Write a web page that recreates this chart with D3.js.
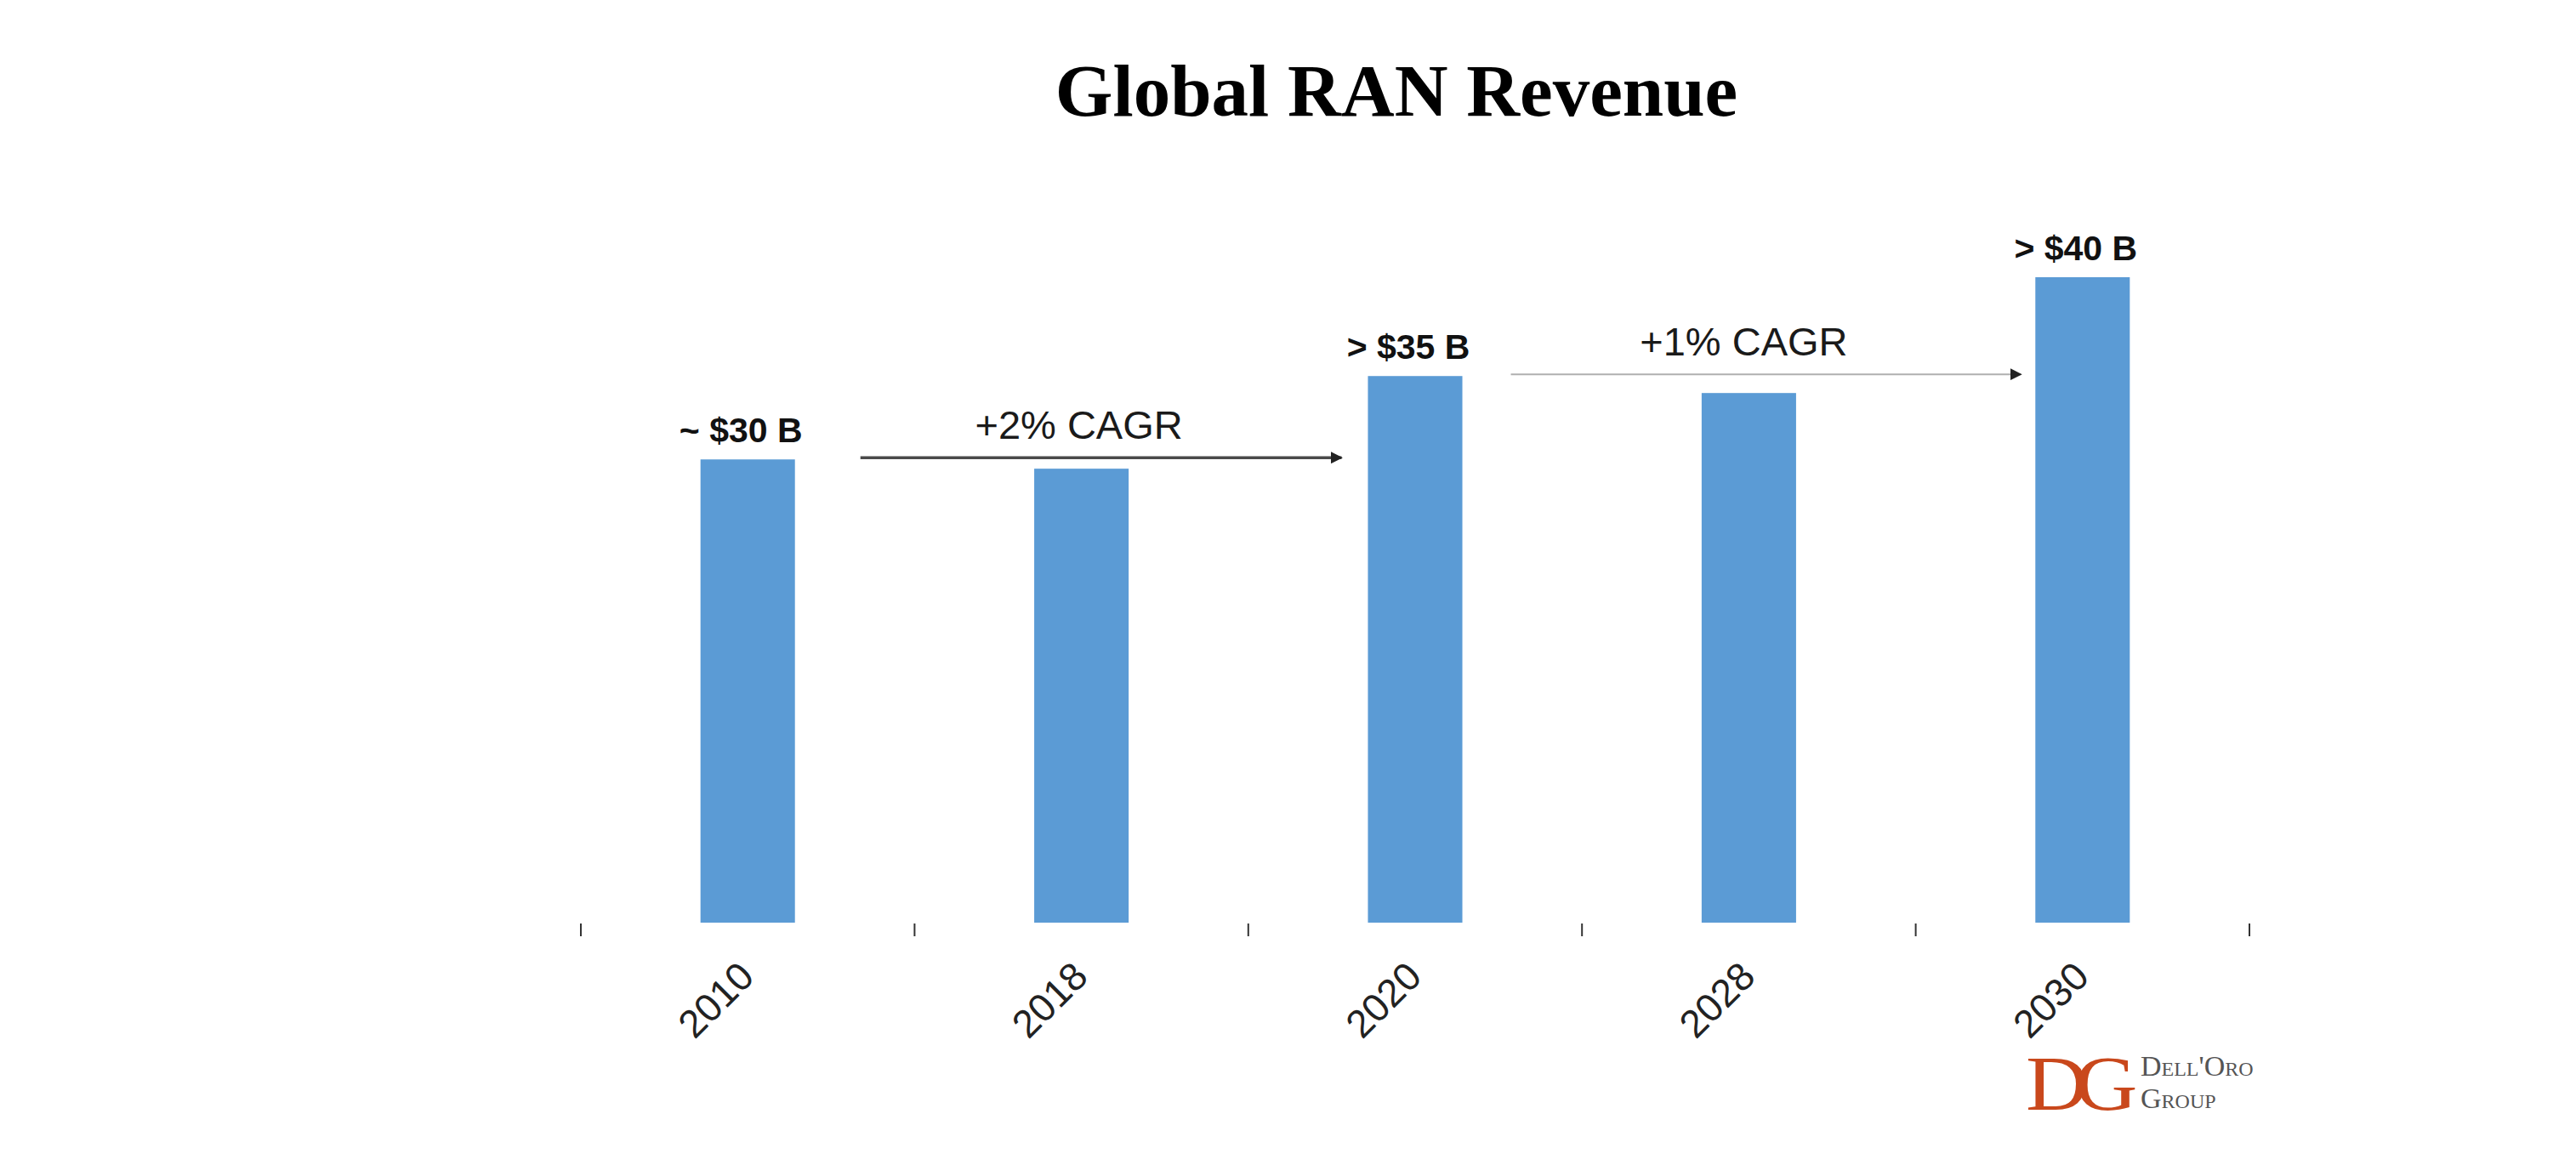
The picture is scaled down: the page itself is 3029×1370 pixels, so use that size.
<!DOCTYPE html>
<html>
<head>
<meta charset="utf-8">
<script src="https://cdn.jsdelivr.net/npm/d3@7"></script>
<style>
  html, body { margin: 0; padding: 0; background: #ffffff; }
  svg { display: block; }
</style>
</head>
<body>
<svg id="chart" width="3029" height="1370"></svg>
<script>
// ---- data ----
const title = "Global RAN Revenue";
const years = ["2010", "2018", "2020", "2028", "2030"];
const revenue = [30, 29.4, 35.4, 34.3, 41.8];            // $B
const valueLabels = ["~ $30 B", null, "> $35 B", null, "> $40 B"];
const cagrFrom = ["2010", "2020"];
const cagrTo = ["2020", "2030"];
const cagrLabels = ["+2% CAGR", "+1% CAGR"];
const logoLine1 = "Dell'Oro";
const logoLine2 = "Group";

// ---- layout ----
const W = 3029, H = 1370;
const baseY = 1085, topY = 326;
const svg = d3.select("#chart");

const x = d3.scaleBand()
  .domain(years)
  .range([683, 2645])
  .paddingInner(0.717)
  .paddingOuter(0.3585);

const y = d3.scaleLinear()
  .domain([0, d3.max(revenue)])
  .range([baseY, topY]);

const barColor = "#5b9bd5";
const data = years.map((yr, i) => ({ year: yr, value: revenue[i], label: valueLabels[i] }));

// title
svg.append("text")
  .attr("x", 1642)
  .attr("y", 136)
  .attr("text-anchor", "middle")
  .attr("font-family", "'Liberation Serif', 'Times New Roman', serif")
  .attr("font-weight", "bold")
  .attr("font-size", 87)
  .attr("fill", "#000")
  .text(title);

// bars
svg.append("g").selectAll("rect")
  .data(data)
  .join("rect")
  .attr("x", d => x(d.year))
  .attr("y", d => y(d.value))
  .attr("width", x.bandwidth())
  .attr("height", d => baseY - y(d.value))
  .attr("fill", barColor);

// value labels
svg.append("g").selectAll("text")
  .data(data.filter(d => d.label))
  .join("text")
  .attr("x", d => x(d.year) + x.bandwidth() / 2 - 8)
  .attr("y", d => y(d.value) - 20)
  .attr("text-anchor", "middle")
  .attr("font-family", "'Liberation Sans', Arial, sans-serif")
  .attr("font-weight", "bold")
  .attr("font-size", 41)
  .attr("fill", "#111")
  .text(d => d.label);

// x axis ticks at band boundaries (no axis line)
const tickPos = d3.range(years.length + 1).map(i => x.range()[0] + i * x.step());
svg.append("g").selectAll("line")
  .data(tickPos)
  .join("line")
  .attr("x1", d => d).attr("x2", d => d)
  .attr("y1", baseY + 1).attr("y2", baseY + 16)
  .attr("stroke", "#333")
  .attr("stroke-width", 2);

// x axis labels (rotated)
svg.append("g").selectAll("text")
  .data(years)
  .join("text")
  .attr("transform", d => `translate(${x(d) + x.bandwidth() / 2 + 10},${baseY + 66}) rotate(-45)`)
  .attr("text-anchor", "end")
  .attr("font-family", "'Liberation Sans', Arial, sans-serif")
  .attr("font-size", 46)
  .attr("fill", "#222")
  .text(d => d);

// CAGR arrows
const defs = svg.append("defs");
const arrowStyles = [
  { color: "#4a4a4a", width: 3.5 },
  { color: "#b0b0b0", width: 2 }
];
arrowStyles.forEach((s, i) => {
  defs.append("marker")
    .attr("id", "arrow" + i)
    .attr("viewBox", "0 0 10 10")
    .attr("refX", 9).attr("refY", 5)
    .attr("markerWidth", 14).attr("markerHeight", 14)
    .attr("markerUnits", "userSpaceOnUse")
    .attr("orient", "auto")
    .append("path")
    .attr("d", "M0,0 L10,5 L0,10 Z")
    .attr("fill", i === 0 ? "#222" : "#222");
});

const startOffsets = [77, 57];
const endOffsets = [31, 17];
cagrLabels.forEach((lab, i) => {
  const fi = years.indexOf(cagrFrom[i]);
  const x1 = x(cagrFrom[i]) + x.bandwidth() + startOffsets[i];
  const x2 = x(cagrTo[i]) - endOffsets[i];
  const ay = y(revenue[fi]) - 2;
  svg.append("line")
    .attr("x1", x1).attr("x2", x2)
    .attr("y1", ay).attr("y2", ay)
    .attr("stroke", arrowStyles[i].color)
    .attr("stroke-width", arrowStyles[i].width)
    .attr("marker-end", `url(#arrow${i})`);
  svg.append("text")
    .attr("x", (x1 + x2) / 2 - 26)
    .attr("y", ay - 22)
    .attr("text-anchor", "middle")
    .attr("font-family", "'Liberation Sans', Arial, sans-serif")
    .attr("font-size", 47)
    .attr("fill", "#1a1a1a")
    .text(lab);
});

// logo
const logo = svg.append("g").attr("transform", "translate(2382,1238)");
logo.append("text")
  .attr("x", 0).attr("y", 67)
  .attr("font-family", "'Liberation Serif', 'Times New Roman', serif")
  .attr("font-size", 92)
  .attr("letter-spacing", -14)
  .attr("fill", "#c9481c")
  .attr("textLength", 116)
  .attr("lengthAdjust", "spacingAndGlyphs")
  .text("DG");
logo.append("text")
  .attr("x", 135).attr("y", 27)
  .attr("font-family", "'Liberation Serif', 'Times New Roman', serif")
  .attr("font-size", 34)
  .attr("font-variant", "small-caps")
  .attr("fill", "#555")
  .text(logoLine1);
logo.append("text")
  .attr("x", 135).attr("y", 65)
  .attr("font-family", "'Liberation Serif', 'Times New Roman', serif")
  .attr("font-size", 34)
  .attr("font-variant", "small-caps")
  .attr("fill", "#555")
  .text(logoLine2);
</script>
</body>
</html>
